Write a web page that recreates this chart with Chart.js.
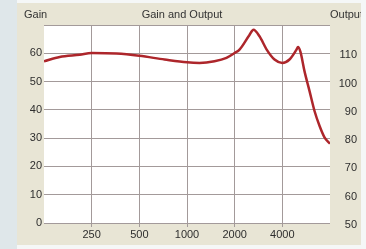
<!DOCTYPE html>
<html>
<head>
<meta charset="utf-8">
<script src="https://cdn.jsdelivr.net/npm/chart.js@4.4.1/dist/chart.umd.min.js"></script>
<style>
    html, body { margin: 0; padding: 0; background: #f5f7f7; }
    canvas { display: block; }
</style>
</head>
<body>
<canvas id="gainchart" width="366" height="249"></canvas>
<script>
// frequency points (Hz) and gain (dB)
const freqs = [125, 157, 210, 250, 359, 500, 721, 1000, 1199, 1492, 1776, 2000, 2146, 2481, 2630, 2870,
    3178, 3570, 4000, 4438, 4916, 5024, 5206, 5520, 5937, 6387, 6867, 7385, 8000];
const gain = [57.2, 58.7, 59.5, 60.1, 59.9, 59.1, 57.8, 56.8, 56.6, 57.2, 58.4, 60.1, 61.3, 66.5, 68.3, 66,
    61.4, 57.8, 56.6, 57.8, 61.3, 62.2, 60.5, 53.7, 46.7, 39.6, 34.4, 30.3, 28];

// tick labels
const xTicks = [250, 500, 1000, 2000, 4000];
const gainTicks = [0, 10, 20, 30, 40, 50, 60, 70];
const outputTicks = [50, 60, 70, 80, 90, 100, 110, 120];

const fontFamily = "'Liberation Sans', Arial, sans-serif";
const gridColor = "#a39a9a";

// background panel, plot area and header texts
const panelPlugin = {
    id: "panel",
    beforeDraw(chart) {
        const ctx = chart.ctx;
        const a = chart.chartArea;
        ctx.save();
        ctx.fillStyle = "#f5f7f7";
        ctx.fillRect(0, 0, chart.width, chart.height);
        ctx.fillStyle = "#dfe7ea";
        ctx.fillRect(0, 0, 17, chart.height);
        ctx.fillStyle = "#e8e5d5";
        ctx.fillRect(17, 3, 344, 242);
        ctx.fillStyle = "#ffffff";
        ctx.fillRect(a.left, a.top, a.right - a.left, a.bottom - a.top);
        ctx.restore();
    },
    afterDraw(chart) {
        const ctx = chart.ctx;
        ctx.save();
        ctx.beginPath();
        ctx.rect(17, 3, 344, 242);
        ctx.clip();
        ctx.font = "11px " + fontFamily;
        ctx.fillStyle = "#333333";
        ctx.textBaseline = "middle";
        ctx.textAlign = "left";
        ctx.fillText("Gain", 24, 15);
        ctx.fillText("Output", 330, 15);
        ctx.textAlign = "center";
        ctx.fillText("Gain and Output", 182, 15);
        ctx.restore();
    },
};

new Chart(document.getElementById("gainchart"), {
    type: "line",
    data: {
        datasets: [{
            label: "Gain",
            data: freqs.map((f, i) => ({ x: f, y: gain[i] })),
            borderColor: "#ad262b",
            borderWidth: 2.5,
            pointRadius: 0,
            cubicInterpolationMode: "monotone",
            yAxisID: "y",
        }],
    },
    options: {
        responsive: false,
        animation: false,
        layout: { padding: { top: 25, left: 0, right: 9, bottom: 0 } },
        plugins: {
            legend: { display: false },
            tooltip: { enabled: false },
        },
        scales: {
            x: {
                type: "logarithmic",
                min: 125,
                max: 8000,
                afterBuildTicks: (scale) => { scale.ticks = xTicks.map((v) => ({ value: v })); },
                afterFit: (scale) => { scale.height = 26; },
                ticks: {
                    callback: (v) => String(v),
                    color: "#2e2e2e",
                    font: { family: fontFamily, size: 11 },
                    padding: 1,
                    maxRotation: 0,
                    autoSkip: false,
                },
                grid: { color: gridColor, tickLength: 4, tickColor: gridColor },
                border: { display: false },
            },
            y: {
                position: "left",
                min: 0,
                max: 70,
                afterBuildTicks: (scale) => { scale.ticks = gainTicks.map((v) => ({ value: v })); },
                afterFit: (scale) => { scale.width = 44; },
                ticks: {
                    callback: (v) => (v === 70 ? "" : String(v)),
                    color: "#2e2e2e",
                    font: { family: fontFamily, size: 11 },
                    padding: 2,
                },
                grid: { color: gridColor, drawTicks: false },
                border: { display: false },
            },
            y2: {
                position: "right",
                min: 50,
                max: 120,
                afterBuildTicks: (scale) => { scale.ticks = outputTicks.map((v) => ({ value: v })); },
                afterFit: (scale) => { scale.width = 27; },
                ticks: {
                    callback: (v) => (v === 120 ? "" : String(v)),
                    color: "#2e2e2e",
                    font: { family: fontFamily, size: 11 },
                    padding: 11,
                    crossAlign: "far",
                    labelOffset: 2,
                },
                grid: { display: false, drawTicks: false },
                border: { display: false },
            },
        },
    },
    plugins: [panelPlugin],
});
</script>
</body>
</html>
